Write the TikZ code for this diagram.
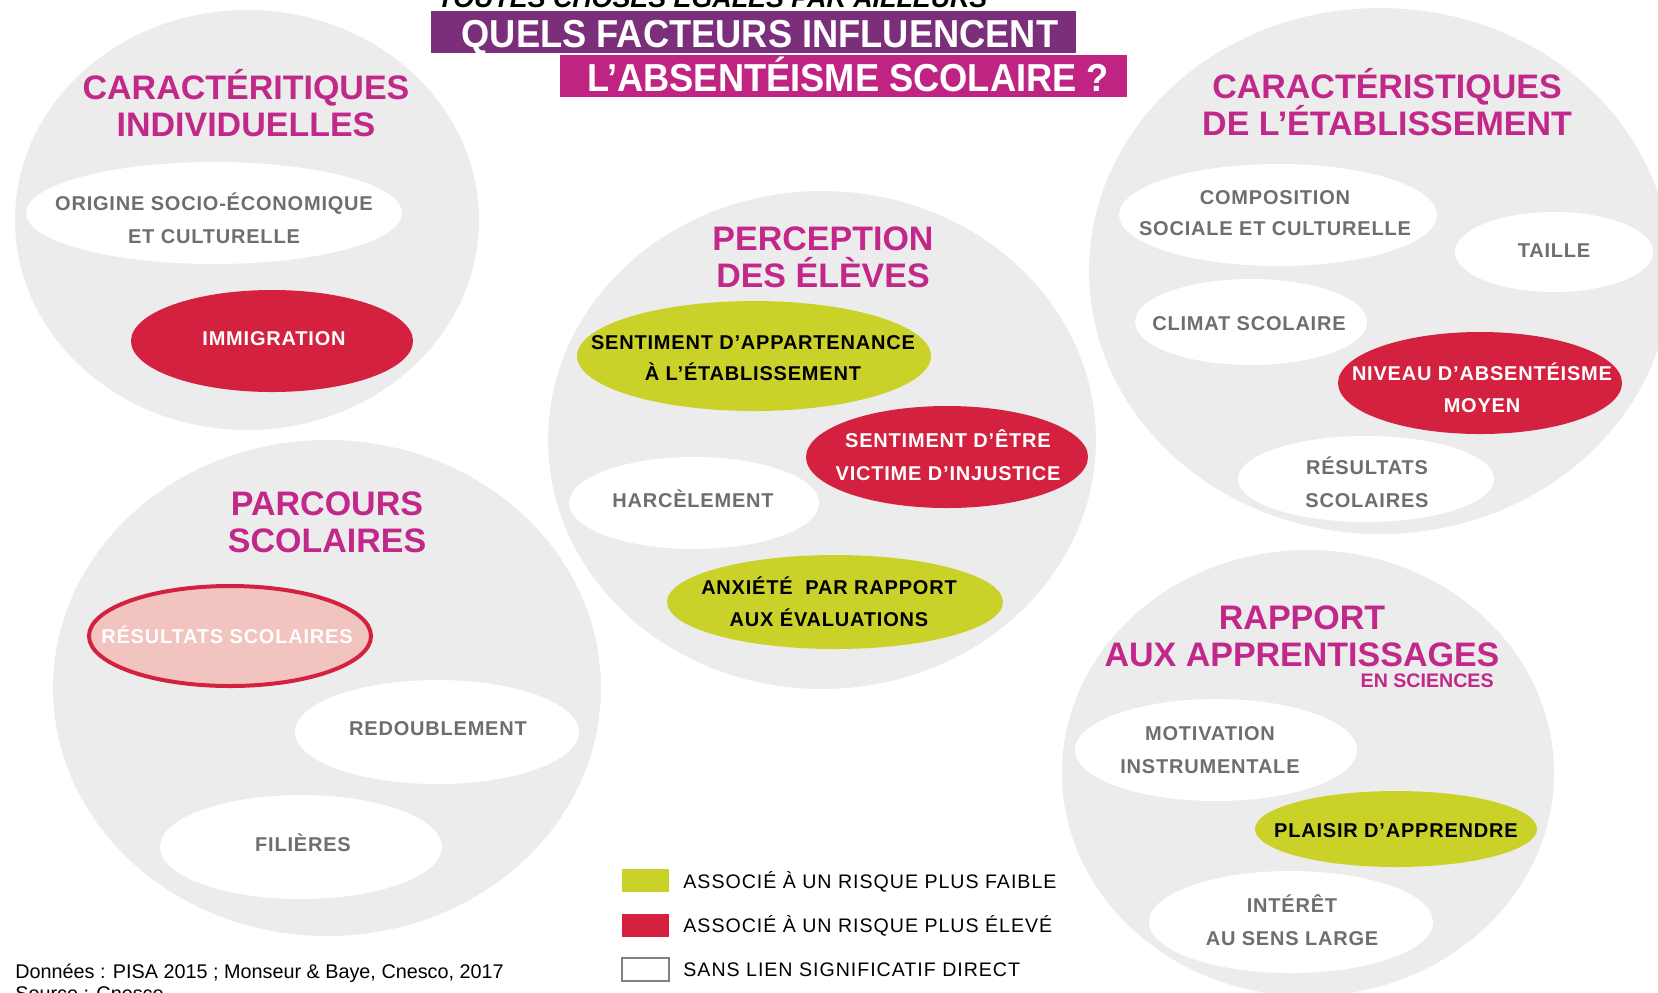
\documentclass[tikz,border=0pt]{standalone}
\usepackage{fontspec}
\setmainfont{Liberation Sans}
\newfontfamily\lblfont{Liberation Sans}[LetterSpace=4]
\newfontfamily\legfont{Liberation Sans}[LetterSpace=5]
\newfontfamily\ttlfont{Liberation Sans}[FakeStretch=0.93]
\usetikzlibrary{shapes.geometric}
\definecolor{circgray}{RGB}{236,236,236}
\definecolor{headmag}{RGB}{193,40,138}
\definecolor{purpbox}{RGB}{123,46,122}
\definecolor{magbox}{RGB}{192,36,130}
\definecolor{redc}{RGB}{211,33,63}
\definecolor{yelc}{RGB}{202,210,42}
\definecolor{pinkc}{RGB}{242,196,191}
\definecolor{txtgray}{RGB}{110,110,112}
\tikzset{
  bigc/.style={ellipse, fill=circgray, draw=none, inner sep=0pt},
  ov/.style={ellipse, draw=none, inner sep=0pt},
  wov/.style={ov, fill=white},
  yov/.style={ov, fill=yelc},
  rov/.style={ov, fill=redc},
  pov/.style={ov, fill=pinkc, draw=redc, line width=2pt},
  lbl/.style={font=\lblfont\bfseries\fontsize{10}{12}\selectfont, inner sep=0pt, anchor=base},
  lg/.style={lbl, text=txtgray},
  lw/.style={lbl, text=white},
  lk/.style={lbl, text=black},
  head/.style={font=\bfseries\fontsize{17}{20}\selectfont, text=headmag, inner sep=0pt, anchor=base},
  ttl/.style={font=\ttlfont\bfseries\fontsize{19.5}{22}\selectfont, text=white, inner sep=0pt, anchor=base},
  leg/.style={font=\legfont\fontsize{9.8}{12}\selectfont, text=black, inner sep=0pt, anchor=base west},
  sq/.style={rectangle, minimum width=23.5pt, minimum height=11.5pt, inner sep=0pt},
}
\begin{document}
\begin{tikzpicture}[x=0.5pt,y=-0.5pt]
\useasboundingbox (0,0) rectangle (1658,992);
\clip (0,0) rectangle (1658,992);
% big circles
\node[bigc, minimum width=232pt, minimum height=210pt] (c1) at (247,220) {};
\node[bigc, minimum width=274pt, minimum height=248pt] (c2) at (327,688) {};
\node[bigc, minimum width=274pt, minimum height=249pt] (c3) at (822,440) {};
\node[bigc, minimum width=291pt, minimum height=263pt] (c4) at (1380,271) {};
\node[bigc, minimum width=246pt, minimum height=223pt] (c5) at (1308,773) {};
% title
\node[anchor=base west, inner sep=0pt, font=\bfseries\itshape\fontsize{13.4}{15}\selectfont] (sub) at (437,7) {TOUTES CHOSES ÉGALES PAR AILLEURS};
\node[fill=purpbox, anchor=north west, minimum width=322.5pt, minimum height=21pt, inner sep=0pt] (tb1) at (431,11) {};
\node[fill=magbox, anchor=north west, minimum width=283.5pt, minimum height=21pt, inner sep=0pt] (tb2) at (560,55) {};
\node[ttl] (t1) at (760,47.6) {QUELS FACTEURS INFLUENCENT};
\node[ttl] (t2) at (848,91) {L’ABSENTÉISME SCOLAIRE ?};
% headings
\node[head] (h1a) at (246,99) {CARACTÉRITIQUES};
\node[head] (h1b) at (246,136) {INDIVIDUELLES};
\node[head] (h2a) at (327,515) {PARCOURS};
\node[head] (h2b) at (327,552) {SCOLAIRES};
\node[head] (h3a) at (823,250.6) {PERCEPTION};
\node[head] (h3b) at (823,287.6) {DES ÉLÈVES};
\node[head] (h4a) at (1387,98.3) {CARACTÉRISTIQUES};
\node[head] (h4b) at (1387,135.3) {DE L’ÉTABLISSEMENT};
\node[head] (h5a) at (1302,629) {RAPPORT};
\node[head] (h5b) at (1302,666) {AUX APPRENTISSAGES};
\node[inner sep=0pt, anchor=base east, text=headmag, font=\bfseries\fontsize{9.8}{12}\selectfont] (h5c) at (1494,687) {EN SCIENCES};
% ovals
\node[wov, minimum width=188pt, minimum height=51pt] (e1) at (214,213) {};
\node[rov, minimum width=141pt, minimum height=51pt] (e2) at (272,341) {};
\node[pov, minimum width=141pt, minimum height=50pt] (e3) at (230,636) {};
\node[wov, minimum width=142pt, minimum height=52pt] (e4) at (437,732) {};
\node[wov, minimum width=141pt, minimum height=52pt] (e5) at (301,847) {};
\node[yov, minimum width=177pt, minimum height=55pt] (e6) at (754,356) {};
\node[wov, minimum width=125pt, minimum height=46pt] (e8) at (694,503) {};
\node[rov, minimum width=141pt, minimum height=51pt] (e7) at (947,457) {};
\node[yov, minimum width=168pt, minimum height=47pt] (e9) at (835,602) {};
\node[wov, minimum width=159pt, minimum height=51pt] (e10) at (1278,215) {};
\node[wov, minimum width=99pt, minimum height=40pt] (e11) at (1554,252) {};
\node[wov, minimum width=116pt, minimum height=43pt] (e12) at (1251,322) {};
\node[rov, minimum width=142pt, minimum height=51pt] (e13) at (1480,383) {};
\node[wov, minimum width=128pt, minimum height=43pt] (e14) at (1366,479) {};
\node[wov, minimum width=141pt, minimum height=51pt] (e15) at (1216,750) {};
\node[yov, minimum width=141pt, minimum height=38pt] (e16) at (1396,829) {};
\node[wov, minimum width=142pt, minimum height=51pt] (e17) at (1291,922) {};
% oval texts
\node[lg] (e1a) at (214,210) {ORIGINE SOCIO-ÉCONOMIQUE};
\node[lg] (e1b) at (214,243) {ET CULTURELLE};
\node[lw] (e2a) at (274,345) {IMMIGRATION};
\node[lw] (e3a) at (227,643) {RÉSULTATS SCOLAIRES};
\node[lg] (e4a) at (438,735) {REDOUBLEMENT};
\node[lg] (e5a) at (303,851) {FILIÈRES};
\node[lk] (e6a) at (753,349) {SENTIMENT D’APPARTENANCE};
\node[lk] (e6b) at (753,380) {À L’ÉTABLISSEMENT};
\node[lw] (e7a) at (948,447) {SENTIMENT D’ÊTRE};
\node[lw] (e7b) at (948,480) {VICTIME D’INJUSTICE};
\node[lg] (e8a) at (693,507) {HARCÈLEMENT};
\node[lk] (e9a) at (829,594) {ANXIÉTÉ\ \ PAR RAPPORT};
\node[lk] (e9b) at (829,626) {AUX ÉVALUATIONS};
\node[lg] (e10a) at (1275,204) {COMPOSITION};
\node[lg] (e10b) at (1275,235) {SOCIALE ET CULTURELLE};
\node[lg] (e11a) at (1554,257) {TAILLE};
\node[lg] (e12a) at (1249,330) {CLIMAT SCOLAIRE};
\node[lw] (e13a) at (1482,380) {NIVEAU D’ABSENTÉISME};
\node[lw] (e13b) at (1482,412) {MOYEN};
\node[lg] (e14a) at (1367,474) {RÉSULTATS};
\node[lg] (e14b) at (1367,507) {SCOLAIRES};
\node[lg] (e15a) at (1210,740) {MOTIVATION};
\node[lg] (e15b) at (1210,773) {INSTRUMENTALE};
\node[lk] (e16a) at (1396,837) {PLAISIR D’APPRENDRE};
\node[lg] (e17a) at (1292,912) {INTÉRÊT};
\node[lg] (e17b) at (1292,945) {AU SENS LARGE};
% legend
\node[sq, fill=yelc] (s1) at (645.5,880.5) {};
\node[sq, fill=redc] (s2) at (645.5,925.5) {};
\node[sq, fill=white, draw=gray, line width=1pt] (s3) at (645.5,969) {};
\node[leg] (l1) at (683,888) {ASSOCIÉ À UN RISQUE PLUS FAIBLE};
\node[leg] (l2) at (683,932) {ASSOCIÉ À UN RISQUE PLUS ÉLEVÉ};
\node[leg] (l3) at (683,976) {SANS LIEN SIGNIFICATIF DIRECT};
% footer
\node[anchor=base west, inner sep=0pt, font=\fontsize{9.9}{12}\selectfont] (f1) at (15,978) {Données : PISA 2015 ; Monseur \& Baye, Cnesco, 2017};
\node[anchor=base west, inner sep=0pt, font=\fontsize{9.9}{12}\selectfont] (f2) at (15,1000) {Source : Cnesco};
\end{tikzpicture}
\end{document}
